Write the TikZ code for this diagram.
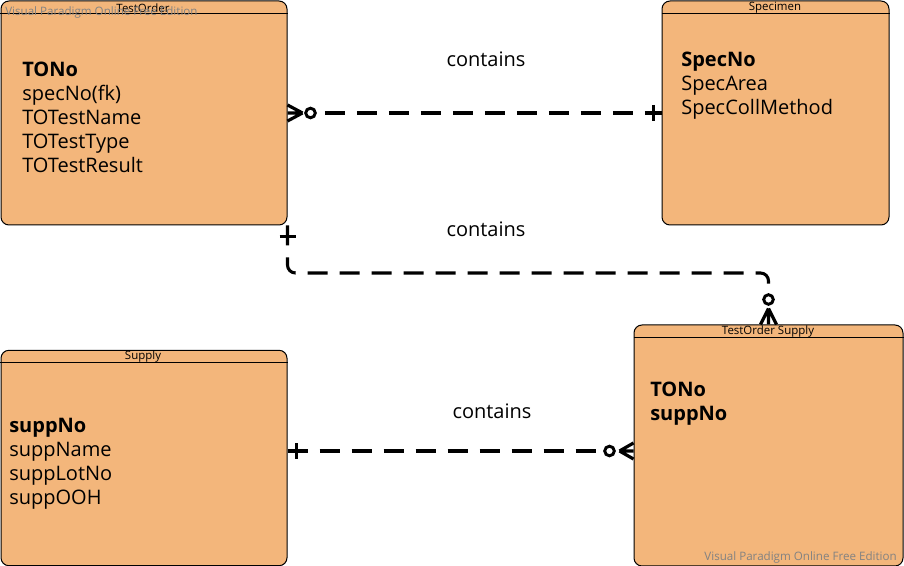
\documentclass[tikz,border=0pt]{standalone}
\usepackage{fontspec}
\setmainfont{Open Sans}
\begin{document}
\begin{tikzpicture}[x=0.75pt,y=-0.75pt,
  entity/.style={draw=black, line width=0.75pt, fill=entfill, rounded corners=6pt, inner sep=0pt},
  title/.style={font=\fontsize{8.6}{9}\selectfont, inner sep=0pt},
  attrs/.style={font=\fontsize{15}{18}\selectfont, align=left, anchor=west, inner sep=0pt},
  lbl/.style={font=\fontsize{15}{16}\selectfont, inner sep=0pt},
  wm/.style={font=\fontsize{8.7}{10}\selectfont, text=wmgray, inner sep=0pt},
  conn/.style={line width=2.3pt, dash pattern=on 15pt off 9pt},
  endmark/.style={line width=2.4pt}
]
\definecolor{entfill}{RGB}{243,182,123}
\definecolor{wmgray}{RGB}{130,130,130}
\useasboundingbox (0,0) rectangle (904,566);

% entities
\node[entity, minimum width=214.5pt, minimum height=168pt] (TO) at (144,113) {};
\node[entity, minimum width=170.25pt, minimum height=168pt] (SP) at (775.5,113) {};
\node[entity, minimum width=214.5pt, minimum height=161.6pt] (SU) at (144,458) {};
\node[entity, minimum width=201.75pt, minimum height=180.75pt] (TS) at (768.5,445.5) {};

% header lines
\foreach \n in {TO,SP,SU,TS}
  \draw[line width=0.75pt] ([yshift=-9.75pt]\n.north west) -- ([yshift=-9.75pt]\n.north east);

% titles
\node[title] (tTO) at (143,8) {TestOrder};
\node[title] (tSP) at (775,8) {Specimen};
\node[title] (tSU) at (143,357) {Supply};
\node[title] (tTS) at (768,332) {TestOrder Supply};

% attributes
\node[attrs] (aTO) at (22,117) {\textbf{TONo}\\specNo(fk)\\TOTestName\\TOTestType\\TOTestResult};
\node[attrs] (aSP) at (681,85.5) {\textbf{SpecNo}\\SpecArea\\SpecCollMethod};
\node[attrs] (aSU) at (9,464) {\textbf{suppNo}\\suppName\\suppLotNo\\suppOOH};
\node[attrs] (aTS) at (650,404) {\textbf{TONo}\\\textbf{suppNo}};

% relationship labels
\node[lbl] (l1) at (486,59) {contains};
\node[lbl] (l2) at (486,229) {contains};
\node[lbl] (l3) at (492,411) {contains};

% watermarks
\node[wm, anchor=west] (wm1) at (5,12) {Visual Paradigm Online Free Edition};
\node[wm, anchor=east] (wm2) at (897,557) {Visual Paradigm Online Free Edition};

% connector 1: TestOrder -- Specimen
\coordinate (c1a) at ([xshift=17.25pt]TO.east);
\coordinate (c1b) at ([xshift=-6pt]SP.west);
\draw[conn] ([xshift=28pt]TO.east) -- (SP.west);
\draw[endmark] ([xshift=11.25pt]TO.east) -- ([yshift=6pt]TO.east)
            ([xshift=11.25pt]TO.east) -- (TO.east)
            ([xshift=11.25pt]TO.east) -- ([yshift=-6pt]TO.east);
\draw[fill=white, line width=2.2pt] (c1a) circle (3.6pt);
\draw[endmark] ([yshift=6pt]c1b) -- ([yshift=-6pt]c1b);

% connector 2: TestOrder -- TestOrder Supply
\coordinate (c2a) at ([yshift=-8.25pt]TO.south east);
\coordinate (c2b) at ([yshift=18.75pt]TS.north);
\draw[conn, rounded corners=6pt] (TO.south east) -- (TO.south east |- 0,273) -- (TS.north |- 0,273) -- ([yshift=23pt]TS.north);
\draw[endmark] ([xshift=-6pt]c2a) -- ([xshift=6pt]c2a);
\draw[endmark] ([yshift=12pt]TS.north) -- ([xshift=-6pt]TS.north)
            ([yshift=12pt]TS.north) -- (TS.north)
            ([yshift=12pt]TS.north) -- ([xshift=6pt]TS.north);
\draw[fill=white, line width=2.2pt] (c2b) circle (3.6pt);

% connector 3: Supply -- TestOrder Supply
\coordinate (s3) at (SU.east |- 0,451);
\coordinate (t3) at (TS.west |- 0,451);
\draw[conn] (s3) -- ([xshift=-21pt]t3);
\draw[endmark] ([xshift=6.75pt,yshift=-6pt]s3) -- ([xshift=6.75pt,yshift=6pt]s3);
\draw[endmark] ([xshift=-10.5pt]t3) -- ([yshift=-6pt]t3)
            ([xshift=-10.5pt]t3) -- (t3)
            ([xshift=-10.5pt]t3) -- ([yshift=6pt]t3);
\draw[fill=white, line width=2.2pt] ([xshift=-18pt]t3) circle (3.6pt);
\end{tikzpicture}
\end{document}
